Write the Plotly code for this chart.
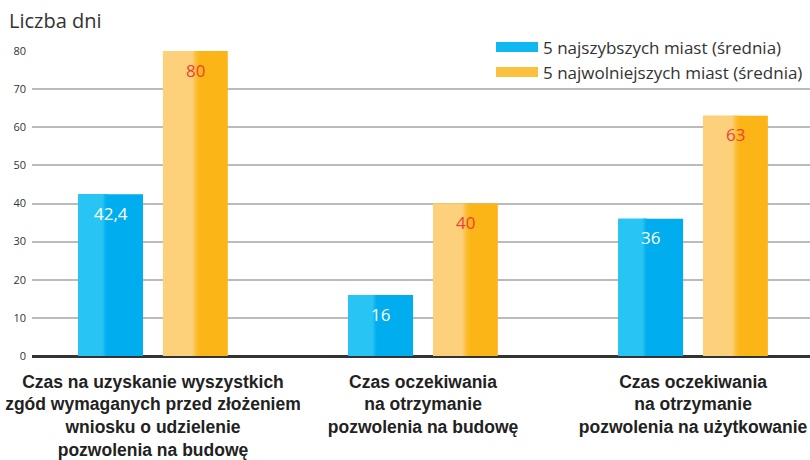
import plotly.graph_objects as go

categories = [
    "Czas na uzyskanie wyszystkich<br>zgód wymaganych przed złożeniem<br>wniosku o udzielenie<br>pozwolenia na budowę",
    "Czas oczekiwania<br>na otrzymanie<br>pozwolenia na budowę",
    "Czas oczekiwania<br>na otrzymanie<br>pozwolenia na użytkowanie",
]
series_names = ["5 najszybszych miast (średnia)", "5 najwolniejszych miast (średnia)"]
fast_values = [42.4, 16, 36]
slow_values = [80, 40, 63]
y_ticks = [0, 10, 20, 30, 40, 50, 60, 70, 80]

# style
light = ["#28C5F4", "#FDD17C"]
dark = ["#00ADEE", "#FBB517"]
label_colors = ["#FFFFFF", "#EF4136"]
trans = [(0.38, 0.44), (0.45, 0.56)]
bar_w = 0.24
offsets = [-0.157, 0.157]
font_main = "Open Sans, Noto Sans, sans-serif"


def hex2rgb(h):
    h = h.lstrip("#")
    return tuple(int(h[i:i + 2], 16) for i in (0, 2, 4))


def mix(a, b, t):
    ra, rb = hex2rgb(a), hex2rgb(b)
    return "rgb(%d,%d,%d)" % tuple(round(ra[k] + (rb[k] - ra[k]) * t) for k in range(3))


fig = go.Figure()
xs = list(range(len(categories)))
for s, vals in enumerate([fast_values, slow_values]):
    d = offsets[s]
    left = [x + d - bar_w / 2 for x in xs]
    fig.add_trace(go.Bar(x=[x + d for x in xs], y=vals, width=bar_w,
                         marker=dict(color=dark[s], line=dict(width=0)), showlegend=False,
                         hoverinfo="skip"))
    a, b = trans[s]
    fig.add_trace(go.Bar(x=[l + a * bar_w / 2 for l in left], y=vals, width=a * bar_w,
                         marker=dict(color=light[s], line=dict(width=0)), showlegend=False,
                         hoverinfo="skip"))
    n = 6
    for k in range(n):
        f0 = a + (b - a) * k / n
        f1 = a + (b - a) * (k + 1) / n
        fig.add_trace(go.Bar(x=[l + (f0 + f1) / 2 * bar_w for l in left], y=vals,
                             width=(f1 - f0) * bar_w * 1.02,
                             marker=dict(color=mix(light[s], dark[s], (k + 0.5) / n), line=dict(width=0)),
                             showlegend=False, hoverinfo="skip"))
    # legend entry
    fig.add_trace(go.Scatter(x=[None], y=[None], mode="lines", name=series_names[s],
                             line=dict(color=mix(light[s], dark[s], 0.6), width=12),
                             showlegend=True, legendrank=s, hoverinfo="skip"))
    for x, v in zip(xs, vals):
        fig.add_annotation(x=x + d, y=v, yshift=-19, text=f"{v:g}".replace(".", ","),
                           showarrow=False, font=dict(size=17, color=label_colors[s], family=font_main),
                           yanchor="middle", xanchor="center")

fig.update_layout(
    width=810, height=460,
    margin=dict(l=32, r=0, t=51, b=104, autoexpand=False),
    barmode="overlay",
    plot_bgcolor="white", paper_bgcolor="white",
    font=dict(family=font_main, color="#333333"),
    xaxis=dict(range=[-0.448, 2.433], tickvals=xs, automargin=False,
               ticktext=["<b>" + c + "</b>" for c in categories],
               tickfont=dict(family="Liberation Sans Narrow, Arial Narrow, sans-serif", size=17.5, color="#222222"),
               showgrid=False, zeroline=False, showline=False, ticks="", ticklabelstandoff=13),
    yaxis=dict(range=[0, 80], tickvals=y_ticks, tickfont=dict(size=11, color="#333333"), automargin=False,
               showgrid=True, gridcolor="#BBBBBB", gridwidth=1.5,
               zeroline=True, zerolinecolor="#333333", zerolinewidth=3, ticks="", ticklabelstandoff=5),
    legend=dict(x=0.59, y=0.936, xref="paper", yref="container", xanchor="left", yanchor="top",
                bgcolor="rgba(0,0,0,0)", font=dict(size=17, color="#333333", family=font_main),
                tracegroupgap=0, itemwidth=42),
    shapes=[dict(type="rect", xref="paper", yref="paper", x0=0.582, x1=1.0, y0=0.968, y1=1.05,
                 fillcolor="white", line=dict(width=0), layer="below")],
    annotations=list(fig.layout.annotations) + [
        dict(text="Liczba dni", xref="paper", yref="paper", x=-0.032, y=1.0, yshift=31,
             xanchor="left", yanchor="middle", showarrow=False,
             font=dict(size=20, color="#333333", family=font_main))
    ],
)
fig.write_html("out.html", config={"displayModeBar": False},
               post_script="document.body.style.margin='0';document.body.style.padding='0';")
